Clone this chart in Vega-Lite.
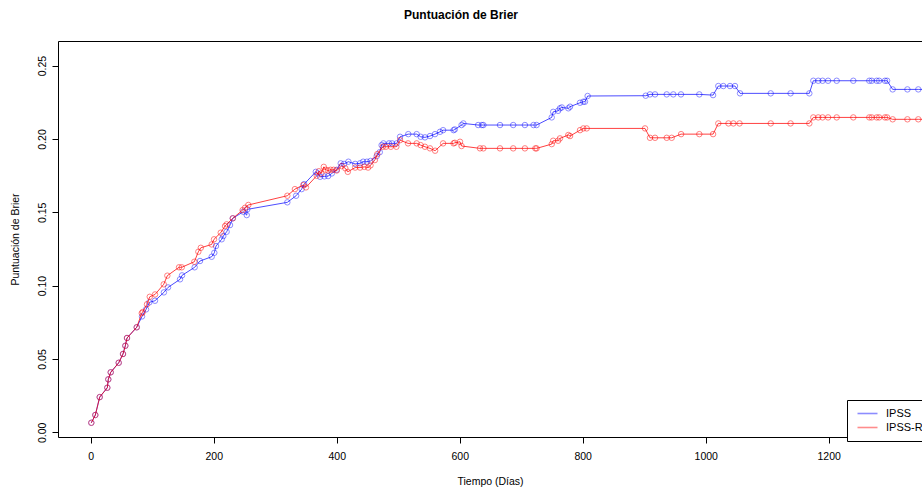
{
  "$schema": "https://vega.github.io/schema/vega-lite/v6.json",
  "width": 864,
  "height": 396,
  "autosize": {"type": "none"},
  "padding": {"left": 58, "top": 41, "right": 0, "bottom": 55},
  "background": "white",
  "title": {"text": "Puntuación de Brier", "fontSize": 12, "fontWeight": "bold", "font": "Liberation Sans", "color": "black", "anchor": "middle", "frame": "group", "dx": -29, "offset": 19},
  "data": {"values": [
    {"t":1,"v":0.0065,"m":"IPSS"},{"t":7.5,"v":0.0118,"m":"IPSS"},{"t":14.6,"v":0.024,"m":"IPSS"},{"t":27,"v":0.0304,"m":"IPSS"},{"t":28.6,"v":0.0361,"m":"IPSS"},{"t":32.5,"v":0.0409,"m":"IPSS"},{"t":45.5,"v":0.0474,"m":"IPSS"},{"t":52.5,"v":0.0534,"m":"IPSS"},{"t":56.3,"v":0.059,"m":"IPSS"},{"t":59,"v":0.0643,"m":"IPSS"},{"t":74.8,"v":0.0716,"m":"IPSS"},
    {"t":83.4,"v":0.079,"m":"IPSS"},{"t":90,"v":0.0838,"m":"IPSS"},{"t":95.3,"v":0.0886,"m":"IPSS"},{"t":104.5,"v":0.0897,"m":"IPSS"},{"t":119,"v":0.0954,"m":"IPSS"},{"t":125.7,"v":0.0988,"m":"IPSS"},{"t":145.2,"v":0.1043,"m":"IPSS"},{"t":148.5,"v":0.107,"m":"IPSS"},{"t":169,"v":0.1125,"m":"IPSS"},{"t":177.7,"v":0.1168,"m":"IPSS"},{"t":196.7,"v":0.1197,"m":"IPSS"},{"t":201,"v":0.1224,"m":"IPSS"},{"t":203.7,"v":0.127,"m":"IPSS"},{"t":213,"v":0.1316,"m":"IPSS"},{"t":215.6,"v":0.1338,"m":"IPSS"},{"t":221,"v":0.1367,"m":"IPSS"},{"t":226.5,"v":0.1413,"m":"IPSS"},{"t":231,"v":0.1459,"m":"IPSS"},{"t":248,"v":0.1504,"m":"IPSS"},{"t":253.7,"v":0.1481,"m":"IPSS"},{"t":254.6,"v":0.152,"m":"IPSS"},{"t":319.7,"v":0.1568,"m":"IPSS"},{"t":334,"v":0.1613,"m":"IPSS"},{"t":343,"v":0.1658,"m":"IPSS"},{"t":347,"v":0.1692,"m":"IPSS"},{"t":366,"v":0.1776,"m":"IPSS"},{"t":369,"v":0.1765,"m":"IPSS"},{"t":373,"v":0.1742,"m":"IPSS"},{"t":380,"v":0.1745,"m":"IPSS"},{"t":386,"v":0.1747,"m":"IPSS"},{"t":392,"v":0.1765,"m":"IPSS"},{"t":400,"v":0.179,"m":"IPSS"},{"t":406.5,"v":0.1834,"m":"IPSS"},{"t":412,"v":0.183,"m":"IPSS"},{"t":419,"v":0.1845,"m":"IPSS"},{"t":430,"v":0.183,"m":"IPSS"},{"t":438,"v":0.1834,"m":"IPSS"},{"t":443,"v":0.1845,"m":"IPSS"},{"t":449,"v":0.1845,"m":"IPSS"},{"t":455,"v":0.185,"m":"IPSS"},{"t":465,"v":0.1883,"m":"IPSS"},{"t":470,"v":0.191,"m":"IPSS"},{"t":473,"v":0.1958,"m":"IPSS"},{"t":476,"v":0.197,"m":"IPSS"},{"t":485,"v":0.197,"m":"IPSS"},{"t":490,"v":0.197,"m":"IPSS"},{"t":497.5,"v":0.197,"m":"IPSS"},{"t":503,"v":0.2015,"m":"IPSS"},{"t":516.4,"v":0.2033,"m":"IPSS"},{"t":530,"v":0.2033,"m":"IPSS"},{"t":536.5,"v":0.2015,"m":"IPSS"},{"t":543.5,"v":0.2011,"m":"IPSS"},{"t":551.7,"v":0.202,"m":"IPSS"},{"t":559.8,"v":0.2033,"m":"IPSS"},{"t":568,"v":0.2049,"m":"IPSS"},{"t":573,"v":0.206,"m":"IPSS"},{"t":590,"v":0.206,"m":"IPSS"},{"t":592,"v":0.2065,"m":"IPSS"},{"t":603,"v":0.2095,"m":"IPSS"},{"t":606,"v":0.2106,"m":"IPSS"},{"t":630,"v":0.2095,"m":"IPSS"},{"t":636,"v":0.2095,"m":"IPSS"},{"t":638.5,"v":0.2095,"m":"IPSS"},{"t":665.5,"v":0.2095,"m":"IPSS"},{"t":687,"v":0.2095,"m":"IPSS"},{"t":706,"v":0.2095,"m":"IPSS"},{"t":720,"v":0.2095,"m":"IPSS"},{"t":725,"v":0.2095,"m":"IPSS"},{"t":749.6,"v":0.2147,"m":"IPSS"},{"t":752,"v":0.2185,"m":"IPSS"},{"t":760,"v":0.2192,"m":"IPSS"},{"t":763,"v":0.2209,"m":"IPSS"},{"t":766,"v":0.2215,"m":"IPSS"},{"t":776.6,"v":0.2209,"m":"IPSS"},{"t":779.4,"v":0.222,"m":"IPSS"},{"t":795.6,"v":0.2247,"m":"IPSS"},{"t":801,"v":0.2254,"m":"IPSS"},{"t":803.7,"v":0.2254,"m":"IPSS"},{"t":808,"v":0.2293,"m":"IPSS"},{"t":902.4,"v":0.2295,"m":"IPSS"},{"t":909.4,"v":0.2304,"m":"IPSS"},{"t":917.6,"v":0.2304,"m":"IPSS"},{"t":936.6,"v":0.2304,"m":"IPSS"},{"t":947.3,"v":0.2304,"m":"IPSS"},{"t":959.8,"v":0.2304,"m":"IPSS"},{"t":989.6,"v":0.2304,"m":"IPSS"},{"t":1012,"v":0.2299,"m":"IPSS"},{"t":1020.5,"v":0.2361,"m":"IPSS"},{"t":1028.6,"v":0.2361,"m":"IPSS"},{"t":1039.5,"v":0.2361,"m":"IPSS"},{"t":1047.6,"v":0.2361,"m":"IPSS"},{"t":1055.8,"v":0.2311,"m":"IPSS"},{"t":1105.7,"v":0.2311,"m":"IPSS"},{"t":1138,"v":0.2311,"m":"IPSS"},{"t":1168.5,"v":0.2311,"m":"IPSS"},{"t":1175,"v":0.2397,"m":"IPSS"},{"t":1183,"v":0.2397,"m":"IPSS"},{"t":1190,"v":0.2397,"m":"IPSS"},{"t":1199,"v":0.2397,"m":"IPSS"},{"t":1213,"v":0.2397,"m":"IPSS"},{"t":1240,"v":0.2397,"m":"IPSS"},{"t":1266,"v":0.2397,"m":"IPSS"},{"t":1270,"v":0.2397,"m":"IPSS"},{"t":1278,"v":0.2397,"m":"IPSS"},{"t":1282,"v":0.2397,"m":"IPSS"},{"t":1291.5,"v":0.2397,"m":"IPSS"},{"t":1295,"v":0.2397,"m":"IPSS"},{"t":1304,"v":0.2338,"m":"IPSS"},{"t":1328,"v":0.2338,"m":"IPSS"},{"t":1345.7,"v":0.2338,"m":"IPSS"},{"t":1370,"v":0.2338,"m":"IPSS"},
    {"t":1,"v":0.0065,"m":"IPSS-R"},{"t":7.5,"v":0.0118,"m":"IPSS-R"},{"t":14.6,"v":0.024,"m":"IPSS-R"},{"t":27,"v":0.0304,"m":"IPSS-R"},{"t":28.6,"v":0.0361,"m":"IPSS-R"},{"t":32.5,"v":0.0409,"m":"IPSS-R"},{"t":45.5,"v":0.0474,"m":"IPSS-R"},{"t":52.5,"v":0.0534,"m":"IPSS-R"},{"t":56.3,"v":0.059,"m":"IPSS-R"},{"t":59,"v":0.0643,"m":"IPSS-R"},{"t":74.8,"v":0.0716,"m":"IPSS-R"},
    {"t":83,"v":0.0812,"m":"IPSS-R"},{"t":84.5,"v":0.082,"m":"IPSS-R"},{"t":91.5,"v":0.0873,"m":"IPSS-R"},{"t":96,"v":0.0924,"m":"IPSS-R"},{"t":104.6,"v":0.094,"m":"IPSS-R"},{"t":118.7,"v":0.1009,"m":"IPSS-R"},{"t":124.6,"v":0.1068,"m":"IPSS-R"},{"t":143.6,"v":0.1125,"m":"IPSS-R"},{"t":148,"v":0.1125,"m":"IPSS-R"},{"t":168.5,"v":0.1163,"m":"IPSS-R"},{"t":175,"v":0.1231,"m":"IPSS-R"},{"t":179,"v":0.1258,"m":"IPSS-R"},{"t":196.7,"v":0.1281,"m":"IPSS-R"},{"t":200.5,"v":0.1316,"m":"IPSS-R"},{"t":211.4,"v":0.1361,"m":"IPSS-R"},{"t":218.4,"v":0.1406,"m":"IPSS-R"},{"t":221,"v":0.1418,"m":"IPSS-R"},{"t":231,"v":0.1459,"m":"IPSS-R"},{"t":247,"v":0.1515,"m":"IPSS-R"},{"t":251,"v":0.1531,"m":"IPSS-R"},{"t":256.3,"v":0.155,"m":"IPSS-R"},{"t":319.7,"v":0.1613,"m":"IPSS-R"},{"t":332,"v":0.1658,"m":"IPSS-R"},{"t":345.7,"v":0.1686,"m":"IPSS-R"},{"t":350,"v":0.167,"m":"IPSS-R"},{"t":367.5,"v":0.1749,"m":"IPSS-R"},{"t":371,"v":0.178,"m":"IPSS-R"},{"t":375,"v":0.1765,"m":"IPSS-R"},{"t":379,"v":0.181,"m":"IPSS-R"},{"t":382,"v":0.179,"m":"IPSS-R"},{"t":386,"v":0.1785,"m":"IPSS-R"},{"t":390,"v":0.179,"m":"IPSS-R"},{"t":395,"v":0.179,"m":"IPSS-R"},{"t":400,"v":0.1785,"m":"IPSS-R"},{"t":408,"v":0.1815,"m":"IPSS-R"},{"t":414,"v":0.18,"m":"IPSS-R"},{"t":418,"v":0.1776,"m":"IPSS-R"},{"t":430,"v":0.1805,"m":"IPSS-R"},{"t":438,"v":0.1805,"m":"IPSS-R"},{"t":445,"v":0.181,"m":"IPSS-R"},{"t":451,"v":0.1805,"m":"IPSS-R"},{"t":455,"v":0.182,"m":"IPSS-R"},{"t":462,"v":0.1856,"m":"IPSS-R"},{"t":466,"v":0.1897,"m":"IPSS-R"},{"t":475,"v":0.1947,"m":"IPSS-R"},{"t":480,"v":0.1947,"m":"IPSS-R"},{"t":488,"v":0.1947,"m":"IPSS-R"},{"t":497,"v":0.1947,"m":"IPSS-R"},{"t":503,"v":0.1992,"m":"IPSS-R"},{"t":516,"v":0.197,"m":"IPSS-R"},{"t":530,"v":0.197,"m":"IPSS-R"},{"t":536.5,"v":0.1958,"m":"IPSS-R"},{"t":543.5,"v":0.1947,"m":"IPSS-R"},{"t":551.7,"v":0.1936,"m":"IPSS-R"},{"t":560,"v":0.192,"m":"IPSS-R"},{"t":573,"v":0.197,"m":"IPSS-R"},{"t":590,"v":0.197,"m":"IPSS-R"},{"t":592,"v":0.1974,"m":"IPSS-R"},{"t":600.5,"v":0.1981,"m":"IPSS-R"},{"t":603,"v":0.1952,"m":"IPSS-R"},{"t":633,"v":0.1936,"m":"IPSS-R"},{"t":638.5,"v":0.1936,"m":"IPSS-R"},{"t":665.5,"v":0.1936,"m":"IPSS-R"},{"t":687,"v":0.1936,"m":"IPSS-R"},{"t":706,"v":0.1936,"m":"IPSS-R"},{"t":723,"v":0.1936,"m":"IPSS-R"},{"t":725,"v":0.1936,"m":"IPSS-R"},{"t":749.6,"v":0.1965,"m":"IPSS-R"},{"t":752,"v":0.1988,"m":"IPSS-R"},{"t":760,"v":0.1988,"m":"IPSS-R"},{"t":763,"v":0.2004,"m":"IPSS-R"},{"t":776.6,"v":0.2027,"m":"IPSS-R"},{"t":779.4,"v":0.202,"m":"IPSS-R"},{"t":795.6,"v":0.206,"m":"IPSS-R"},{"t":801,"v":0.2072,"m":"IPSS-R"},{"t":806.5,"v":0.2072,"m":"IPSS-R"},{"t":901.3,"v":0.2072,"m":"IPSS-R"},{"t":909.4,"v":0.2008,"m":"IPSS-R"},{"t":917.6,"v":0.2008,"m":"IPSS-R"},{"t":936.6,"v":0.2008,"m":"IPSS-R"},{"t":944.7,"v":0.2008,"m":"IPSS-R"},{"t":960,"v":0.2033,"m":"IPSS-R"},{"t":989.6,"v":0.2033,"m":"IPSS-R"},{"t":1012,"v":0.2033,"m":"IPSS-R"},{"t":1020.5,"v":0.2106,"m":"IPSS-R"},{"t":1037,"v":0.2106,"m":"IPSS-R"},{"t":1045,"v":0.2106,"m":"IPSS-R"},{"t":1055,"v":0.2106,"m":"IPSS-R"},{"t":1105.7,"v":0.2106,"m":"IPSS-R"},{"t":1138,"v":0.2106,"m":"IPSS-R"},{"t":1168.5,"v":0.2106,"m":"IPSS-R"},{"t":1175,"v":0.2147,"m":"IPSS-R"},{"t":1183,"v":0.2147,"m":"IPSS-R"},{"t":1190,"v":0.2147,"m":"IPSS-R"},{"t":1199,"v":0.2147,"m":"IPSS-R"},{"t":1213,"v":0.2147,"m":"IPSS-R"},{"t":1240,"v":0.2147,"m":"IPSS-R"},{"t":1266,"v":0.2147,"m":"IPSS-R"},{"t":1270,"v":0.2147,"m":"IPSS-R"},{"t":1278,"v":0.2147,"m":"IPSS-R"},{"t":1282,"v":0.2147,"m":"IPSS-R"},{"t":1291.5,"v":0.2147,"m":"IPSS-R"},{"t":1295,"v":0.2147,"m":"IPSS-R"},{"t":1304,"v":0.2134,"m":"IPSS-R"},{"t":1328,"v":0.2134,"m":"IPSS-R"},{"t":1345.7,"v":0.2134,"m":"IPSS-R"},{"t":1370,"v":0.2134,"m":"IPSS-R"}
  ]},
  "encoding": {
    "y": {"field": "v", "type": "quantitative", "scale": {"domain": [-0.0032, 0.2668], "nice": false, "zero": false},
      "axis": {"values": [0, 0.05, 0.1, 0.15, 0.2, 0.25], "format": ".2f", "labelAngle": -90, "labelAlign": "center", "labelBaseline": "bottom", "tickSize": 6, "labelPadding": 5, "title": "Puntuación de Brier", "titleX": -43, "titleY": 198, "titleAngle": -90, "titleAlign": "center", "titleBaseline": "middle"}},
    "color": {"field": "m", "type": "nominal", "scale": {"domain": ["IPSS", "IPSS-R"], "range": ["#0000FF", "#FF0000"]},
      "legend": {"title": null, "orient": "none", "legendX": 789, "legendY": 359, "strokeColor": "black", "fillColor": "white", "padding": 8, "cornerRadius": 0, "symbolType": "M-0.75,0H4.25", "symbolSize": 64, "symbolStrokeWidth": 1.6, "symbolOpacity": 1, "symbolFillColor": "transparent", "labelFontSize": 11, "labelFont": "Liberation Sans", "labelColor": "black", "rowPadding": 2, "labelOffset": 20,
        "encode": {"symbols": {"update": {"stroke": {"scale": "color", "field": "value"}, "strokeOpacity": {"value": 0.45}, "opacity": {"value": 1}}}}}}
  },
  "layer": [
    {"transform": [{"filter": "datum.m === 'IPSS'"}],
     "mark": {"type": "line", "strokeWidth": 1, "opacity": 0.7, "clip": true},
     "encoding": {"x": {"field": "t", "type": "quantitative", "scale": {"domain": [-53.2, 1351.7], "nice": false, "zero": false},
       "axis": {"orient": "bottom", "values": [0, 200, 400, 600, 800, 1000, 1200], "format": "d", "tickSize": 6, "labelPadding": 8, "title": "Tiempo (Días)", "titleY": 44, "titleBaseline": "middle"}}}},
    {"transform": [{"filter": "datum.m === 'IPSS'"}],
     "mark": {"type": "point", "filled": false, "size": 30, "strokeWidth": 1, "opacity": 0.45, "clip": true},
     "encoding": {"x": {"field": "t", "type": "quantitative", "scale": {"domain": [-53.2, 1351.7], "nice": false, "zero": false}, "axis": null}}},
    {"transform": [{"filter": "datum.m === 'IPSS-R'"}],
     "mark": {"type": "line", "strokeWidth": 1, "opacity": 0.75, "clip": true},
     "encoding": {"x": {"field": "t", "type": "quantitative", "scale": {"domain": [-53.2, 1351.7], "nice": false, "zero": false}, "axis": null}}},
    {"transform": [{"filter": "datum.m === 'IPSS-R'"}],
     "mark": {"type": "point", "filled": false, "size": 30, "strokeWidth": 1, "opacity": 0.5, "clip": true},
     "encoding": {"x": {"field": "t", "type": "quantitative", "scale": {"domain": [-53.2, 1351.7], "nice": false, "zero": false},
       "axis": {"orient": "top", "ticks": false, "labels": false, "title": null, "domain": true}}}}
  ],
  "resolve": {"axis": {"x": "independent"}},
  "config": {
    "view": {"stroke": null},
    "font": "Liberation Sans",
    "axis": {"grid": false, "domainColor": "black", "domainWidth": 1, "tickColor": "black", "labelColor": "black", "labelFont": "Liberation Sans", "labelFontSize": 10.5, "titleFont": "Liberation Sans", "titleFontSize": 10.5, "titleFontWeight": "normal", "titleColor": "black"}
  }
}
